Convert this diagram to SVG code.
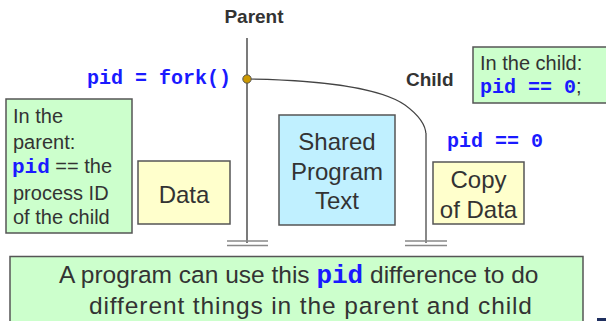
<svg xmlns="http://www.w3.org/2000/svg" width="606" height="321" viewBox="0 0 606 321">
<style>
.t{font-family:"Liberation Sans",Arial,sans-serif;fill:#333}
.b{font-weight:bold}
.m{font-family:"Liberation Mono","Courier New",monospace;font-weight:bold;fill:#1a1aff}
.g{fill:#ccffcc;stroke:#555;stroke-width:1.5}
.y{fill:#ffffcc;stroke:#555;stroke-width:1.5}
.c{fill:#c0f0ff;stroke:#555;stroke-width:1.5}
.gr{stroke:#888;stroke-width:1.5;fill:none}
</style>
<rect width="606" height="321" fill="#fff"/>
<g id="connectors">
  <line x1="247" y1="38" x2="247" y2="243" stroke="#333" stroke-width="1.3"/>
  <line class="gr" x1="227" y1="241" x2="268" y2="241"/>
  <line class="gr" x1="227" y1="245.5" x2="268" y2="245.5"/>
  <path d="M247,79 C320,80 380,88 405,105 C420,116 426,125 426,135" fill="none" stroke="#444" stroke-width="1.2"/>
  <line x1="426" y1="133" x2="426" y2="243" stroke="#888" stroke-width="2"/>
  <line class="gr" x1="405" y1="241" x2="447" y2="241"/>
  <line class="gr" x1="405" y1="245.5" x2="447" y2="245.5"/>
</g>
<g id="fork">
  <circle cx="247" cy="79" r="4.2" fill="#cc9900" stroke="#555" stroke-width="1"/>
  <text class="m" x="231" y="84" font-size="20" text-anchor="end">pid = fork()</text>
</g>
<g id="parent-label"><text class="t b" x="254" y="23" font-size="19" text-anchor="middle">Parent</text></g>
<g id="child-label"><text class="t b" x="406" y="86" font-size="19">Child</text></g>
<g id="child-note">
  <rect class="g" x="473" y="47" width="140" height="56"/>
  <text class="t" x="480" y="70" font-size="20">In the child:</text>
  <text x="480" y="93" font-size="20"><tspan class="m">pid == 0</tspan><tspan class="t">;</tspan></text>
</g>
<g id="parent-note">
  <rect class="g" x="6" y="99" width="126" height="134"/>
  <text class="t" x="13" y="123" font-size="20">In the</text>
  <text class="t" x="13" y="149" font-size="20">parent:</text>
  <text x="12" y="173" font-size="20"><tspan class="m" font-size="21">pid</tspan><tspan class="t"> == the</tspan></text>
  <text class="t" x="13" y="200" font-size="20">process ID</text>
  <text class="t" x="13" y="224" font-size="20">of the child</text>
</g>
<g id="data">
  <rect class="y" x="138" y="161" width="92" height="63"/>
  <text class="t" x="184" y="203" font-size="24" text-anchor="middle">Data</text>
</g>
<g id="shared">
  <rect class="c" x="279" y="115" width="116" height="110"/>
  <text class="t" x="337" y="150" font-size="24" text-anchor="middle">Shared</text>
  <text class="t" x="337" y="180" font-size="24" text-anchor="middle">Program</text>
  <text class="t" x="337" y="209" font-size="24" text-anchor="middle">Text</text>
</g>
<g id="child-pid"><text class="m" x="447" y="147" font-size="20">pid == 0</text></g>
<g id="copy">
  <rect class="y" x="433" y="162" width="91" height="62"/>
  <text class="t" x="478.5" y="188" font-size="24" text-anchor="middle">Copy</text>
  <text class="t" x="478.5" y="218" font-size="24" text-anchor="middle">of Data</text>
</g>
<g id="summary">
  <rect class="g" x="10" y="256.5" width="573" height="70" stroke="#444"/>
  <text x="59" y="283" font-size="24.5"><tspan class="t">A program can use this </tspan><tspan class="m" font-size="26">pid</tspan><tspan class="t"> difference to do</tspan></text>
  <text class="t" x="89" y="314" font-size="24.5" textLength="443">different things in the parent and child</text>
</g>
<rect x="597" y="318" width="9" height="3" fill="#1f2f5f"/>
</svg>
